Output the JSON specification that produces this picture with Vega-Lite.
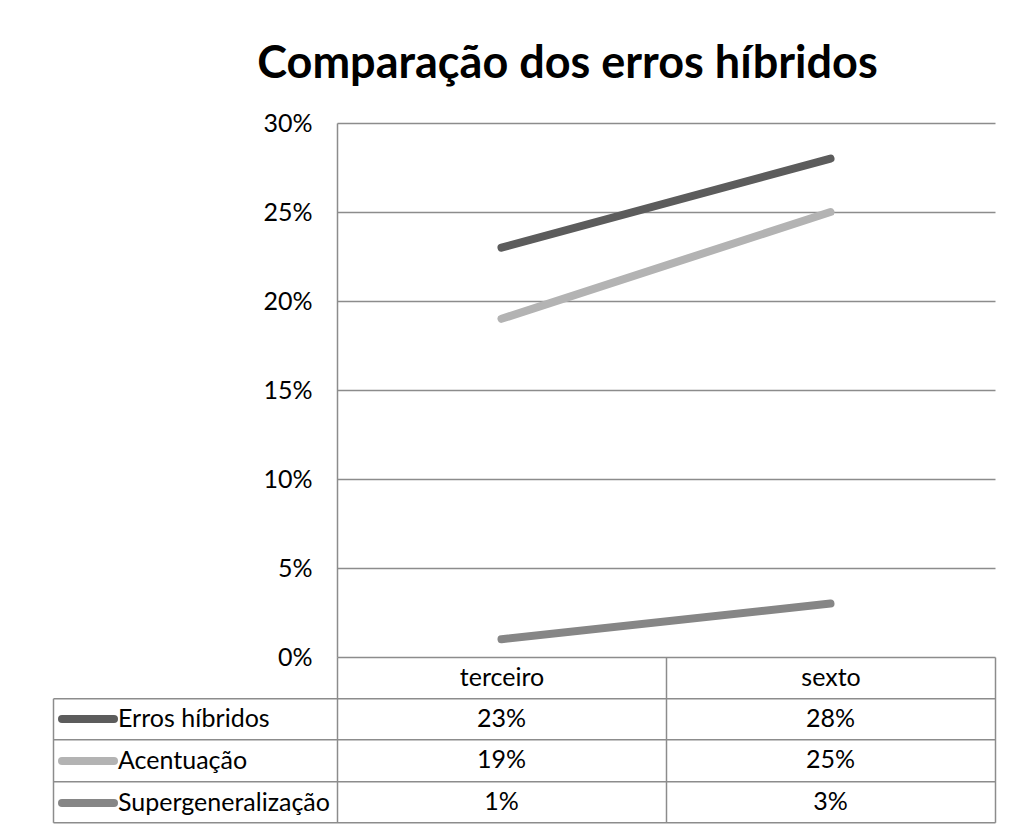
{
  "$schema": "https://vega.github.io/schema/vega-lite/v6.json",
  "background": "white",
  "padding": {"left": 52, "top": 42, "right": 5, "bottom": 5},
  "title": {
    "text": "Comparação dos erros híbridos",
    "font": "Lato",
    "fontSize": 45,
    "fontWeight": "bold",
    "color": "black",
    "anchor": "start",
    "dx": 205,
    "offset": 24
  },
  "datasets": {
    "d": [
      {"serie": "Erros híbridos", "ano": "terceiro", "valor": 0.23},
      {"serie": "Erros híbridos", "ano": "sexto", "valor": 0.28},
      {"serie": "Acentuação", "ano": "terceiro", "valor": 0.19},
      {"serie": "Acentuação", "ano": "sexto", "valor": 0.25},
      {"serie": "Supergeneralização", "ano": "terceiro", "valor": 0.01},
      {"serie": "Supergeneralização", "ano": "sexto", "valor": 0.03}
    ]
  },
  "bounds": "flush",
  "spacing": 41.3,
  "vconcat": [
    {
      "width": 658,
      "height": 534,
      "data": {"name": "d"},
      "mark": {"type": "line", "strokeWidth": 8, "strokeCap": "round", "strokeJoin": "round"},
      "encoding": {
        "x": {
          "field": "ano",
          "type": "nominal",
          "sort": ["terceiro", "sexto"],
          "scale": {"type": "point", "padding": 0.5},
          "axis": {"title": null, "ticks": false, "domain": false, "grid": false, "labelAngle": 0, "labelBaseline": "middle", "labelPadding": 20.6}
        },
        "y": {
          "field": "valor",
          "type": "quantitative",
          "scale": {"domain": [0, 0.3], "nice": false, "zero": true},
          "axis": {"title": null, "values": [0, 0.05, 0.1, 0.15, 0.2, 0.25, 0.3], "format": ".0%", "grid": true, "ticks": false, "domain": true, "labelPadding": 25}
        },
        "color": {
          "field": "serie",
          "type": "nominal",
          "sort": ["Erros híbridos", "Acentuação", "Supergeneralização"],
          "scale": {"domain": ["Erros híbridos", "Acentuação", "Supergeneralização"], "range": ["#5c5c5c", "#b3b3b3", "#868686"]},
          "legend": {
            "orient": "none",
            "legendX": -279,
            "legendY": 575.3,
            "title": null,
            "padding": 0,
            "symbolType": "stroke",
            "symbolSize": 2704,
            "symbolStrokeWidth": 8,
            "labelFont": "Lato",
            "labelFontSize": 25,
            "labelColor": "black",
            "labelOffset": 0,
            "labelLimit": 400,
            "clipHeight": 41.3,
            "rowPadding": 0,
            "encode": {"symbols": {"update": {"strokeCap": {"value": "round"}}}}
          }
        }
      }
    },
    {
      "width": 658,
      "height": 124,
      "data": {"name": "d"},
      "mark": {"type": "text", "font": "Lato", "fontSize": 25, "color": "black", "align": "center", "baseline": "middle"},
      "encoding": {
        "x": {
          "field": "ano",
          "type": "nominal",
          "sort": ["terceiro", "sexto"],
          "scale": {"type": "band", "paddingInner": 0, "paddingOuter": 0},
          "axis": {"title": null, "orient": "top", "offset": 41.3, "labels": false, "domain": false, "grid": false, "ticks": true, "tickSize": -165.3, "tickBand": "extent"}
        },
        "y": {
          "field": "serie",
          "type": "nominal",
          "sort": ["Erros híbridos", "Acentuação", "Supergeneralização"],
          "scale": {"type": "band", "paddingInner": 0, "paddingOuter": 0},
          "axis": {"title": null, "orient": "left", "offset": 284, "labels": false, "domain": true, "grid": false, "ticks": true, "tickSize": -942, "tickBand": "extent"}
        },
        "text": {"field": "valor", "type": "quantitative", "format": ".0%"}
      }
    }
  ],
  "config": {
    "view": {"stroke": null},
    "font": "Lato",
    "axis": {
      "labelFont": "Lato",
      "labelFontSize": 25,
      "labelColor": "black",
      "gridColor": "#8c8c8c",
      "gridWidth": 1.5,
      "domainColor": "#8c8c8c",
      "domainWidth": 1.5,
      "tickColor": "#8c8c8c",
      "tickWidth": 1.5
    }
  }
}
